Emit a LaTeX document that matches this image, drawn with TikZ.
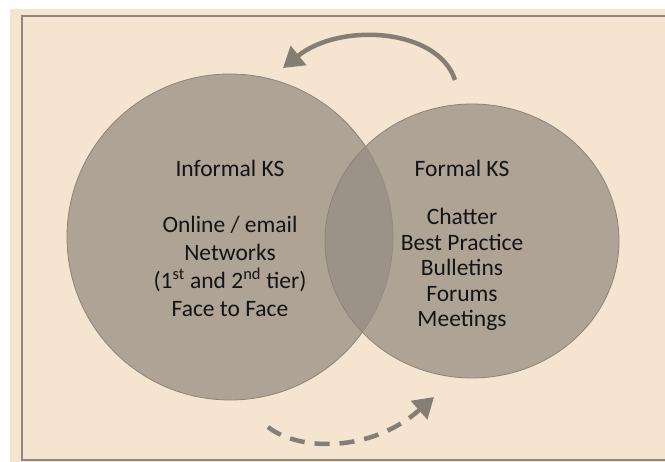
\documentclass[tikz,border=0pt]{standalone}
\usepackage{fontspec}
\setmainfont{Carlito}
\usepackage{tikz}
\usetikzlibrary{calc, arrows.meta, positioning}
\definecolor{paper}{RGB}{245,228,208}
\definecolor{blob}{RGB}{151,141,131}
\definecolor{rim}{RGB}{140,131,121}
\definecolor{framegray}{RGB}{142,134,124}
\definecolor{arrowgray}{RGB}{133,126,116}
\definecolor{ink}{RGB}{20,20,20}
\tikzset{
  ksset/.style={fill=blob, fill opacity=0.74, draw=rim, line width=0.8pt},
  kstext/.style={text=ink, font=\fontsize{23.5}{28}\selectfont, align=center},
  flow/.style={draw=arrowgray, line width=4.5pt, -{Triangle[length=20pt, width=24pt]}},
}
\begin{document}
\begin{tikzpicture}[x=1pt, y=-1pt]
                  % page and frame
                  \useasboundingbox (0,0) rectangle (665,462);
                  \fill[white] (0,0) rectangle (665,462);
                  \fill[paper] (10,9) rectangle (665,462);
                  \draw[framegray, line width=2.2pt] (668,16) -- (22,16) -- (22,460) -- (668,460);
                  % the two sets
                  \draw[ksset] (230,237) circle (163);
                  \draw[ksset] (472,241) ellipse (147 and 137);
                  \node[kstext] (informal) at (230,168) {Informal KS};
                  \node[kstext, below=33pt of informal] (informallist)
                    {Online / email\\Networks\\(1\textsuperscript{st} and 2\textsuperscript{nd} tier)\\Face to Face};
                  \node[kstext] (formal) at (462,168) {Formal KS};
                  \node[kstext, font=\fontsize{23.5}{25.5}\selectfont, below=25pt of formal] (formallist)
                    {Chatter\\Best Practice\\Bulletins\\Forums\\Meetings};
                  % arrows
                  \coordinate (topstart) at (455,80);
                  \coordinate (topend) at (283,68);
                  \coordinate (lowstart) at (268,427);
                  \coordinate (lowend) at (434,397);
                  \draw[flow] (topstart) .. controls (438,28) and (340,22) .. (topend);
                  \draw[flow, dash pattern=on 15pt off 10pt] (lowstart) .. controls (300,452) and (372,452) .. (lowend);
               \end{tikzpicture}
\end{document}
